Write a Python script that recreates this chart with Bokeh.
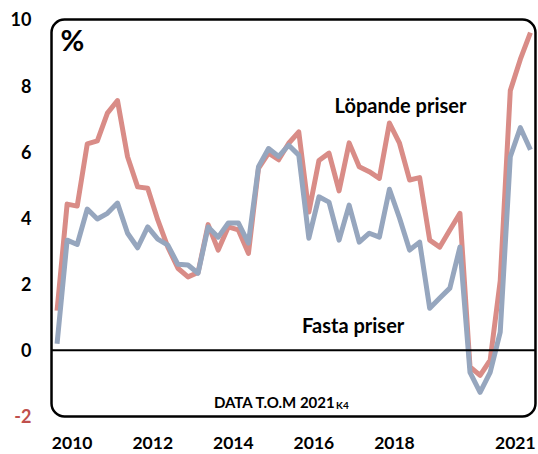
from bokeh.plotting import figure
from bokeh.models import Range1d, Label, BoxAnnotation
from bokeh.core.properties import value
from bokeh.embed import file_html
from bokeh.resources import INLINE

# ---- data ----
years = list(range(2010, 2022))
quarters = [f"{y}K{q}" for y in years for q in (1, 2, 3, 4)]

lopande = [1.2, 4.42, 4.36, 6.24, 6.33, 7.17, 7.55, 5.85, 4.94, 4.9, 3.94, 3.12,
           2.48, 2.22, 2.35, 3.8, 3.03, 3.73, 3.64, 2.93, 5.5, 5.96, 5.76, 6.26,
           6.6, 4.18, 5.74, 5.96, 4.82, 6.27, 5.55, 5.4, 5.2, 6.87, 6.26, 5.15,
           5.22, 3.33, 3.12, 3.64, 4.14, -0.5, -0.76, -0.3, 2.1, 7.85, 8.8, 9.6]

fasta = [0.2, 3.33, 3.2, 4.27, 3.97, 4.14, 4.45, 3.54, 3.1, 3.73, 3.36, 3.18,
         2.6, 2.58, 2.33, 3.73, 3.42, 3.85, 3.85, 3.24, 5.55, 6.1, 5.86, 6.2,
         5.9, 3.39, 4.64, 4.48, 3.33, 4.39, 3.27, 3.54, 3.42, 4.87, 4.0, 3.03,
         3.27, 1.27, 1.58, 1.88, 3.12, -0.67, -1.27, -0.67, 0.55, 5.85, 6.73, 6.06]

x_tick_years = [2010, 2012, 2014, 2016, 2018, 2021]
y_ticks = [-2, 0, 2, 4, 6, 8, 10]

RED = "#D98C87"
BLUE = "#96A6BE"
NEG = "#C0504D"
FONT = "Lato"

xs = list(range(len(quarters)))

# rounded chart box in data units
bx0, bx1 = -0.55, len(quarters) - 0.5
by0, by1 = y_ticks[0], y_ticks[-1]

# the frame covers the whole canvas; labels are drawn as text inside it
p = figure(width=538, height=454, output_backend="svg", toolbar_location=None,
           x_range=Range1d(-5.615, 47.80), y_range=Range1d(-3.149, 10.574),
           min_border=0)
p.outline_line_color = None
p.xgrid.visible = False
p.ygrid.visible = False
p.xaxis.visible = False
p.yaxis.visible = False
p.background_fill_color = "white"
p.border_fill_color = "white"

p.line(xs, lopande, line_color=RED, line_width=5, line_join="round")
p.line(xs, fasta, line_color=BLUE, line_width=5, line_join="round")

# zero line across the box
p.segment(x0=[bx0], y0=[0], x1=[bx1], y1=[0], line_color="black", line_width=2)

p.add_layout(BoxAnnotation(left=bx0, right=bx1, bottom=by0, top=by1,
                           fill_alpha=0, line_color="black", line_alpha=1,
                           line_width=2.5, border_radius=13))

# y tick labels (text so that -2 can be red)
p.text(x=[bx0 - 1.99] * len(y_ticks), y=y_ticks, text=[str(v) for v in y_ticks],
       text_color=[NEG if v < 0 else "black" for v in y_ticks],
       text_align="right", text_baseline="middle", text_font=value(FONT),
       text_font_style="bold", text_font_size="18px")

# x tick labels at mid-year
tick_pos = [(y - years[0]) * 4 + 1.5 for y in x_tick_years]
p.text(x=tick_pos, y=[by0 - 0.80] * len(tick_pos), text=[str(y) for y in x_tick_years],
       text_color="black", text_align="center", text_baseline="middle",
       text_font=value(FONT), text_font_style="bold", text_font_size="17.5px")

# texts
p.add_layout(Label(x=0.35, y=9.93, text="%", text_align="left", text_baseline="top",
                   text_font=FONT, text_font_style="bold", text_font_size="29px",
                   text_color="black"))
p.add_layout(Label(x=34.1, y=7.41, text="Löpande priser", text_align="center",
                   text_baseline="alphabetic", text_font=FONT, text_font_style="bold",
                   text_font_size="20px", text_color="black"))
p.add_layout(Label(x=29.4, y=0.76, text="Fasta priser", text_align="center",
                   text_baseline="alphabetic", text_font=FONT, text_font_style="bold",
                   text_font_size="20px", text_color="black"))
p.add_layout(Label(x=27.66, y=-1.57, text="DATA T.O.M 2021", text_align="right",
                   text_baseline="alphabetic", text_font=FONT, text_font_style="bold",
                   text_font_size="15px", text_color="black"))
p.add_layout(Label(x=27.7, y=-1.66, text="K4", text_align="left",
                   text_baseline="alphabetic", text_font=FONT, text_font_style="bold",
                   text_font_size="10px", text_color="black"))

open("out.html", "w").write(file_html(p, INLINE))
